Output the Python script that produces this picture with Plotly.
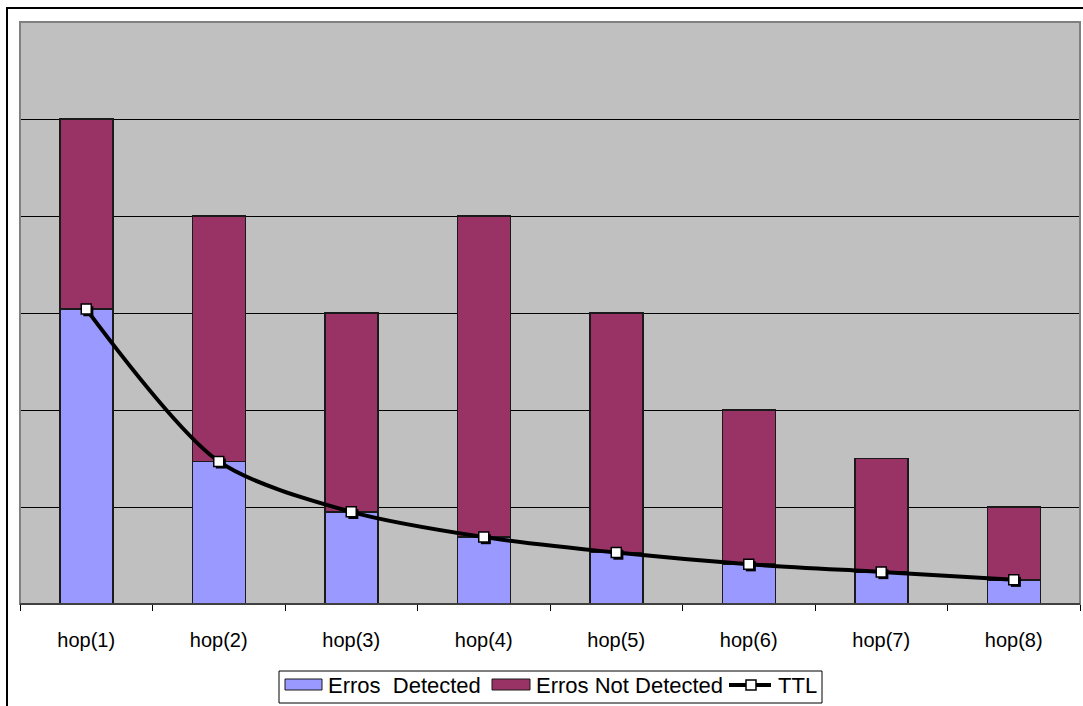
import plotly.graph_objects as go

# Hop categories and measured error counts
hops = ["hop(1)", "hop(2)", "hop(3)", "hop(4)", "hop(5)", "hop(6)", "hop(7)", "hop(8)"]
erros_detected = [3.04, 1.47, 0.95, 0.69, 0.53, 0.41, 0.33, 0.25]
erros_not_detected = [1.96, 2.53, 2.05, 3.31, 2.47, 1.59, 1.17, 0.75]
ttl = [3.04, 1.47, 0.95, 0.69, 0.53, 0.41, 0.33, 0.25]

FONT = "Liberation Sans, Arial, sans-serif"
BLUE = "#9999FF"
PLUM = "#993366"
EDGE = "#1a1a1a"

W, H = 1083, 706
L, R, T, B = 20, 3, 22, 102
PW, PH = W - L - R, H - T - B

pos = list(range(len(hops)))


def px(x):
    return (x - L) / PW


def py(y):
    return (H - B - y) / PH


fig = go.Figure()

fig.add_trace(go.Bar(
    x=pos, y=erros_detected, name="Erros  Detected",
    marker=dict(color=BLUE, line=dict(color=EDGE, width=1.5)),
    width=0.4,
))
fig.add_trace(go.Bar(
    x=pos, y=erros_not_detected, name="Erros Not Detected",
    marker=dict(color=PLUM, line=dict(color=EDGE, width=1.5)),
    width=0.4,
))
fig.add_trace(go.Scatter(
    x=pos, y=ttl, name="TTL", mode="lines",
    line=dict(color="black", width=4, shape="spline", smoothing=0.8),
))
# drop shadow under the TTL markers
fig.add_trace(go.Scatter(
    x=[p + 0.016 for p in pos], y=[v - 0.022 for v in ttl], mode="markers",
    marker=dict(symbol="square", size=10, color="black", line=dict(width=0)),
    hoverinfo="skip",
))
fig.add_trace(go.Scatter(
    x=pos, y=ttl, name="TTL", mode="markers",
    marker=dict(symbol="square", size=10, color="white",
                line=dict(color="black", width=1.5)),
))

# hand-built legend box
LEG_Y = 685
legend_shapes = [
    dict(type="rect", xref="paper", yref="paper",
         x0=px(279), x1=px(822), y0=py(703), y1=py(671),
         line=dict(color="black", width=1), fillcolor="white"),
    dict(type="rect", xref="paper", yref="paper",
         x0=px(285), x1=px(322), y0=py(690), y1=py(679),
         line=dict(color=EDGE, width=1), fillcolor=BLUE),
    dict(type="rect", xref="paper", yref="paper",
         x0=px(492), x1=px(530), y0=py(690), y1=py(679),
         line=dict(color=EDGE, width=1), fillcolor=PLUM),
    dict(type="line", xref="paper", yref="paper",
         x0=px(729), x1=px(771), y0=py(LEG_Y), y1=py(LEG_Y),
         line=dict(color="black", width=4)),
    dict(type="rect", xref="paper", yref="paper",
         x0=px(746), x1=px(756), y0=py(LEG_Y + 5), y1=py(LEG_Y - 5),
         line=dict(color="black", width=1.5), fillcolor="white"),
]
legend_texts = [("Erros  Detected", 326), ("Erros Not Detected", 534), ("TTL", 776)]
annotations = [
    dict(text=t, x=px(x0), y=py(LEG_Y), xref="paper", yref="paper",
         xanchor="left", yanchor="middle", showarrow=False,
         font=dict(family=FONT, size=22, color="black"))
    for t, x0 in legend_texts
]

fig.update_layout(
    width=W, height=H,
    margin=dict(l=L, r=R, t=T, b=B, autoexpand=False),
    barmode="stack",
    paper_bgcolor="white",
    plot_bgcolor="#C0C0C0",
    font=dict(family=FONT, size=20, color="black"),
    showlegend=False,
    xaxis=dict(
        range=[-0.5, len(hops) - 0.5],
        tickvals=pos, ticktext=hops, ticks="",
        showgrid=False, zeroline=False,
        showline=True, linecolor="black", linewidth=1,
        ticklabelstandoff=18,
        tickfont=dict(family=FONT, size=20, color="black"),
        minor=dict(tickvals=[p - 0.5 for p in pos] + [len(hops) - 0.5],
                   ticks="outside", ticklen=6, tickcolor="black",
                   tickwidth=1, showgrid=False),
    ),
    yaxis=dict(
        range=[0, 6], dtick=1,
        showgrid=True, gridcolor="black", gridwidth=1,
        showticklabels=False, ticks="",
        zeroline=False, showline=False,
    ),
    shapes=[
        # plot area frame
        dict(type="rect", xref="paper", yref="paper", x0=0, x1=1, y0=0, y1=1,
             line=dict(color="#808080", width=2), layer="above"),
        # black floor line of the plot area
        dict(type="line", xref="paper", yref="paper", x0=0, x1=1, y0=0, y1=0,
             line=dict(color="black", width=1), layer="above"),
        # outer chart border
        dict(type="rect", xref="paper", yref="paper",
             x0=px(7), x1=px(W + 20), y0=py(H + 20), y1=py(8),
             line=dict(color="black", width=2), layer="above"),
    ] + legend_shapes,
    annotations=annotations,
)

fig.write_html("out.html")
